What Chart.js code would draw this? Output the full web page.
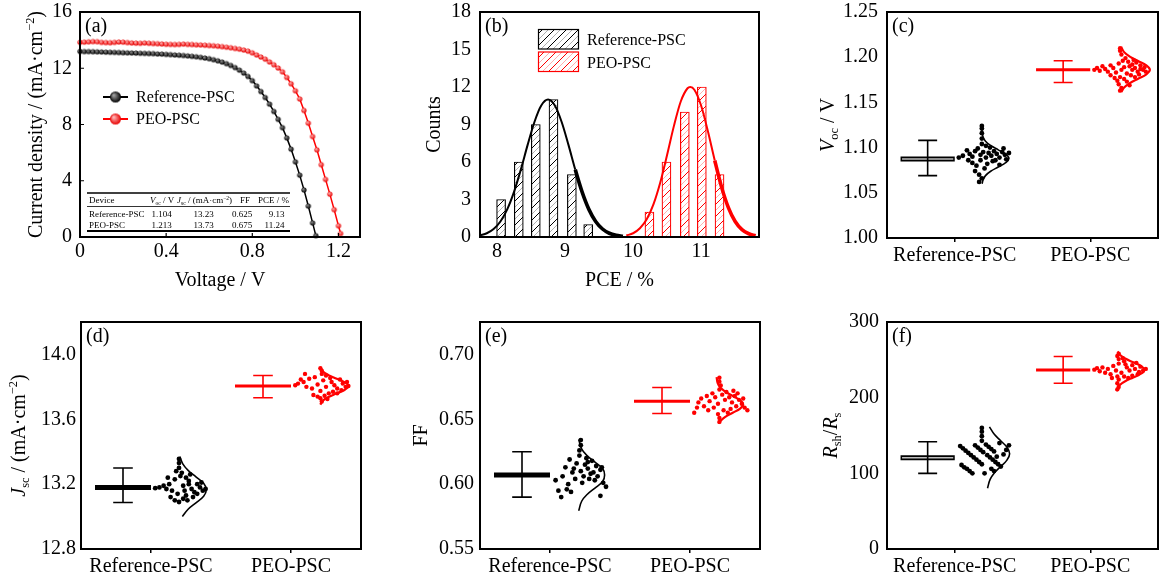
<!DOCTYPE html>
<html>
<head>
<meta charset="utf-8">
<script src="https://cdn.jsdelivr.net/npm/chart.js@4.4.0/dist/chart.umd.min.js"></script>
<style>
  body { margin: 0; background: #fff; width: 1162px; height: 580px; position: relative; overflow: hidden; }
  canvas { position: absolute; }
</style>
</head>
<body>
<canvas id="pa"></canvas>
<canvas id="pb"></canvas>
<canvas id="pc"></canvas>
<canvas id="pd"></canvas>
<canvas id="pe"></canvas>
<canvas id="pf"></canvas>
<script>
const FONT = "'Liberation Serif', 'Times New Roman', serif";

// ---------- (a) J-V curves ----------
const refV = [0, 0.02, 0.04, 0.06, 0.08, 0.10, 0.12, 0.14, 0.16, 0.18, 0.20, 0.22, 0.24, 0.26, 0.28, 0.30, 0.32, 0.34, 0.36, 0.38,
  0.40, 0.42, 0.44, 0.46, 0.48, 0.50, 0.52, 0.54, 0.56, 0.58, 0.60, 0.62, 0.64, 0.66, 0.68, 0.70, 0.72, 0.74, 0.76, 0.78,
  0.80, 0.82, 0.84, 0.86, 0.88, 0.90, 0.92, 0.94, 0.96, 0.98, 1.00, 1.02, 1.04, 1.06, 1.08, 1.095];
const refJ = [13.20, 13.19, 13.19, 13.18, 13.17, 13.16, 13.15, 13.14, 13.13, 13.12, 13.11, 13.10, 13.09, 13.08, 13.07, 13.06, 13.05, 13.04, 13.02, 13.01,
  12.99, 12.97, 12.95, 12.93, 12.91, 12.88, 12.85, 12.82, 12.78, 12.73, 12.68, 12.61, 12.53, 12.44, 12.33, 12.20, 12.05, 11.87, 11.66, 11.42,
  11.12, 10.75, 10.35, 9.92, 9.45, 8.93, 8.37, 7.78, 7.05, 6.25, 5.35, 4.40, 3.35, 2.20, 1.00, 0.10];
const peoV = [0, 0.02, 0.04, 0.06, 0.08, 0.10, 0.12, 0.14, 0.16, 0.18, 0.20, 0.22, 0.24, 0.26, 0.28, 0.30, 0.32, 0.34, 0.36, 0.38,
  0.40, 0.42, 0.44, 0.46, 0.48, 0.50, 0.52, 0.54, 0.56, 0.58, 0.60, 0.62, 0.64, 0.66, 0.68, 0.70, 0.72, 0.74, 0.76, 0.78,
  0.80, 0.82, 0.84, 0.86, 0.88, 0.90, 0.92, 0.94, 0.96, 0.98, 1.00, 1.02, 1.04, 1.06, 1.08, 1.10, 1.12, 1.14, 1.16, 1.18, 1.20, 1.21];
const peoJ = [13.85, 13.86, 13.88, 13.90, 13.89, 13.84, 13.83, 13.82, 13.84, 13.87, 13.86, 13.83, 13.80, 13.79, 13.78, 13.80, 13.78, 13.76, 13.75, 13.73,
  13.71, 13.70, 13.69, 13.70, 13.72, 13.70, 13.69, 13.67, 13.66, 13.64, 13.62, 13.60, 13.57, 13.54, 13.50, 13.46, 13.41, 13.36, 13.30, 13.22,
  13.10, 12.95, 12.80, 12.65, 12.45, 12.25, 12.02, 11.75, 11.35, 10.90, 10.40, 9.82, 9.00, 8.10, 7.15, 6.20, 5.15, 4.10, 3.05, 1.95, 0.80, 0.25];
const voltTicks = [0, 0.4, 0.8, 1.2];
const jTicks = [0, 4, 8, 12, 16];
const tableRows = [
  ['Reference-PSC', '1.104', '13.23', '0.625', '9.13'],
  ['PEO-PSC', '1.213', '13.73', '0.675', '11.24']
];

// ---------- (b) PCE histogram ----------
const refPce = [8.06, 8.32, 8.57, 8.83, 9.10, 9.34];
const refCounts = [3, 6, 9, 11, 5, 1];
const peoPce = [10.24, 10.49, 10.76, 11.01, 11.27];
const peoCounts = [2, 6, 10, 12, 5];
const refFitX = [7.75, 7.85, 7.95, 8.05, 8.15, 8.25, 8.35, 8.45, 8.55, 8.65, 8.75, 8.85, 8.95, 9.05, 9.15, 9.25, 9.35, 9.45, 9.55, 9.65, 9.75, 9.85];
const refFitY = [0.13, 0.30, 0.64, 1.24, 2.21, 3.61, 5.39, 7.37, 9.20, 10.52, 11.0, 10.52, 9.20, 7.37, 5.39, 3.61, 2.21, 1.24, 0.64, 0.30, 0.13, 0.05];
const peoFitX = [9.9, 10.0, 10.1, 10.2, 10.3, 10.4, 10.5, 10.6, 10.7, 10.8, 10.84, 10.9, 11.0, 11.1, 11.2, 11.3, 11.4, 11.5, 11.6, 11.7, 11.8];
const peoFitY = [0.12, 0.30, 0.70, 1.42, 2.63, 4.38, 6.58, 8.89, 10.84, 11.90, 12.0, 11.78, 10.50, 8.44, 6.12, 3.99, 2.35, 1.24, 0.59, 0.26, 0.10];
const pceTicks = [8, 9, 10, 11];
const countTicks = [0, 3, 6, 9, 12, 15, 18];

// ---------- (c)-(f) statistics ----------
const groups = ['Reference-PSC', 'PEO-PSC'];
// dots: [offset right of the group tick, value]; fits: [offset, value]

const vocMean = [1.0874, 1.186], vocLo = [1.069, 1.172], vocHi = [1.108, 1.196];
const vocTicks = [1.00, 1.05, 1.10, 1.15, 1.20, 1.25];
const vocRefDots = [[0.03,1.089],[0.06,1.091],[0.09,1.097],[0.11,1.093],[0.13,1.090],[0.15,1.096],[0.17,1.099],[0.19,1.092],[0.21,1.095],[0.23,1.089],
  [0.25,1.094],[0.27,1.091],[0.29,1.096],[0.31,1.093],[0.33,1.089],[0.35,1.095],[0.37,1.092],[0.13,1.083],[0.16,1.080],[0.19,1.086],
  [0.22,1.077],[0.15,1.074],[0.18,1.070],[0.20,1.066],[0.18,1.062],[0.24,1.082],[0.28,1.085],[0.20,1.104],[0.20,1.110],[0.20,1.116],
  [0.20,1.121],[0.20,1.124],[0.23,1.102],[0.26,1.100],[0.30,1.086],[0.33,1.081],[0.38,1.087],[0.40,1.094],[0.36,1.099],[0.10,1.086]];
const vocPeoDots = [[0.03,1.186],[0.05,1.188],[0.07,1.185],[0.09,1.190],[0.11,1.187],[0.13,1.184],[0.15,1.191],[0.17,1.188],[0.19,1.183],[0.21,1.193],
  [0.23,1.186],[0.25,1.189],[0.27,1.182],[0.29,1.190],[0.31,1.186],[0.33,1.188],[0.35,1.184],[0.37,1.187],[0.15,1.180],[0.18,1.177],
  [0.20,1.174],[0.22,1.178],[0.25,1.176],[0.21,1.170],[0.23,1.166],[0.22,1.163],[0.24,1.196],[0.26,1.199],[0.23,1.203],[0.22,1.207],
  [0.22,1.210],[0.28,1.195],[0.31,1.192],[0.34,1.194],[0.30,1.180],[0.33,1.178],[0.36,1.181],[0.39,1.186],[0.41,1.184],[0.27,1.173],
  [0.29,1.169],[0.32,1.197],[0.37,1.191],[0.40,1.189]];
const vocRefFit = [[0.200,1.1245],[0.202,1.1165],[0.209,1.1118],[0.227,1.107],[0.265,1.1023],[0.321,1.0975],[0.376,1.0928],[0.400,1.088],
  [0.376,1.0833],[0.321,1.0785],[0.265,1.0738],[0.227,1.069],[0.209,1.0643],[0.202,1.060]];
const vocPeoFit = [[0.228,1.2115],[0.250,1.2056],[0.292,1.2007],[0.353,1.1958],[0.414,1.1909],[0.440,1.186],[0.414,1.1811],[0.353,1.1762],
  [0.292,1.1713],[0.250,1.1664],[0.230,1.1615]];

const jscMean = [13.18, 13.805], jscLo = [13.087, 13.733], jscHi = [13.30, 13.87];
const jscTicks = [12.8, 13.2, 13.6, 14.0];
const jscRefDots = [[0.03,13.175],[0.06,13.18],[0.09,13.19],[0.11,13.17],[0.13,13.20],[0.15,13.16],[0.17,13.23],[0.19,13.14],[0.21,13.25],[0.23,13.19],
  [0.25,13.13],[0.27,13.22],[0.29,13.17],[0.31,13.15],[0.33,13.20],[0.35,13.18],[0.37,13.16],[0.39,13.17],[0.14,13.12],[0.17,13.10],
  [0.20,13.09],[0.23,13.11],[0.26,13.10],[0.22,13.27],[0.20,13.30],[0.20,13.33],[0.20,13.355],[0.25,13.24],[0.28,13.26],[0.30,13.12],
  [0.33,13.14],[0.36,13.21],[0.18,13.28],[0.12,13.24],[0.24,13.16],[0.27,13.20]];
const jscPeoDots = [[0.03,13.81],[0.05,13.82],[0.07,13.845],[0.09,13.83],[0.11,13.80],[0.13,13.85],[0.15,13.79],[0.17,13.86],[0.19,13.815],[0.21,13.775],
  [0.23,13.84],[0.25,13.80],[0.27,13.76],[0.29,13.83],[0.31,13.81],[0.33,13.79],[0.35,13.845],[0.37,13.82],[0.39,13.80],[0.16,13.75],
  [0.19,13.74],[0.21,13.73],[0.22,13.71],[0.24,13.745],[0.26,13.725],[0.22,13.88],[0.22,13.90],[0.21,13.915],[0.25,13.87],[0.28,13.855],
  [0.30,13.77],[0.33,13.76],[0.36,13.78],[0.10,13.88],[0.40,13.83],[0.41,13.805]];
const jscRefFit = [[0.206,13.37],[0.227,13.325],[0.265,13.285],[0.321,13.245],[0.376,13.205],[0.395,13.165],[0.376,13.125],[0.321,13.085],
  [0.265,13.045],[0.224,13.0]];
const jscPeoFit = [[0.209,13.92],[0.228,13.895],[0.268,13.8725],[0.327,13.85],[0.385,13.8275],[0.410,13.805],[0.385,13.7825],[0.327,13.76],
  [0.268,13.7375],[0.228,13.715],[0.209,13.69]];

const ffMean = [0.607, 0.664], ffLo = [0.590, 0.6545], ffHi = [0.625, 0.6745];
const ffTicks = [0.55, 0.60, 0.65, 0.70];
const ffRefDots = [[0.04,0.603],[0.06,0.595],[0.08,0.590],[0.09,0.606],[0.11,0.613],[0.13,0.600],[0.14,0.619],[0.16,0.609],[0.18,0.604],[0.19,0.616],
  [0.21,0.622],[0.22,0.610],[0.24,0.606],[0.25,0.615],[0.27,0.612],[0.28,0.604],[0.30,0.618],[0.31,0.609],[0.33,0.614],[0.34,0.606],
  [0.36,0.611],[0.37,0.613],[0.12,0.596],[0.15,0.594],[0.21,0.626],[0.22,0.630],[0.22,0.634],[0.26,0.620],[0.29,0.608],[0.38,0.601],
  [0.40,0.598],[0.36,0.591],[0.32,0.603],[0.17,0.612],[0.27,0.617],[0.23,0.601]];
const ffPeoDots = [[0.03,0.655],[0.05,0.659],[0.06,0.663],[0.08,0.666],[0.10,0.660],[0.12,0.668],[0.14,0.664],[0.16,0.670],[0.18,0.667],[0.20,0.662],
  [0.21,0.673],[0.23,0.669],[0.25,0.665],[0.26,0.671],[0.28,0.667],[0.30,0.663],[0.32,0.668],[0.33,0.660],[0.35,0.665],[0.37,0.662],
  [0.39,0.659],[0.41,0.657],[0.22,0.676],[0.21,0.679],[0.21,0.682],[0.20,0.654],[0.21,0.651],[0.21,0.648],[0.24,0.657],[0.27,0.655],
  [0.29,0.658],[0.31,0.672],[0.34,0.670],[0.13,0.657],[0.17,0.659],[0.38,0.666]];
const ffRefFit = [[0.205,0.6345],[0.227,0.627],[0.265,0.622],[0.321,0.617],[0.376,0.612],[0.390,0.607],[0.376,0.602],[0.321,0.597],
  [0.265,0.592],[0.227,0.587],[0.205,0.5795]];
const ffPeoFit = [[0.190,0.6825],[0.198,0.6778],[0.216,0.6745],[0.252,0.6713],[0.305,0.668],[0.358,0.6648],[0.380,0.6615],[0.358,0.6583],
  [0.305,0.655],[0.252,0.6518],[0.216,0.6485],[0.202,0.6467]];

const rsMean = [120.6, 236.7], rsLo = [100, 219], rsHi = [141.7, 254.4];
const rsTicks = [0, 100, 200, 300];
const rsRefDots = [[0.04,136],[0.06,133],[0.08,130],[0.10,127],[0.12,124],[0.05,111],[0.07,108],[0.09,106],[0.11,103],[0.13,100],
  [0.14,121],[0.16,118],[0.18,115],[0.20,112],[0.15,137],[0.17,134],[0.19,131],[0.21,128],[0.20,143],[0.20,149],
  [0.20,155],[0.20,160],[0.23,138],[0.25,135],[0.27,132],[0.29,129],[0.24,124],[0.26,121],[0.28,118],[0.30,115],
  [0.32,112],[0.34,109],[0.27,106],[0.29,103],[0.36,125],[0.38,131],[0.40,137],[0.33,140],[0.22,100],[0.31,122]];
const rsPeoDots = [[0.03,237],[0.05,239],[0.07,235],[0.09,240],[0.11,233],[0.13,238],[0.15,231],[0.17,242],[0.19,236],[0.21,245],
  [0.23,233],[0.25,248],[0.27,240],[0.29,236],[0.31,243],[0.33,238],[0.35,231],[0.37,241],[0.39,236],[0.41,238],
  [0.21,251],[0.20,255],[0.21,258],[0.20,228],[0.21,224],[0.20,219],[0.21,214],[0.20,211],[0.25,228],[0.28,226],
  [0.31,229],[0.34,246],[0.24,252],[0.16,226],[0.36,234],[0.26,244]];
const rsRefFit = [[0.256,161.4],[0.292,151.5],[0.339,143],[0.385,134.5],[0.405,126],[0.385,117.5],[0.339,109],[0.292,100.5],[0.261,92],[0.242,80.4]];
const rsPeoFit = [[0.201,261],[0.218,256.7],[0.258,251.7],[0.317,246.7],[0.375,241.7],[0.400,236.7],[0.375,231.7],[0.317,226.7],
  [0.258,221.7],[0.218,216.7],[0.199,211.7],[0.194,208.4]];

// ---------- helpers ----------
Chart.defaults.font.family = FONT;
Chart.defaults.font.size = 20;
Chart.defaults.color = '#000';
Chart.defaults.animation = false;
Chart.defaults.plugins.legend.display = false;
Chart.defaults.plugins.tooltip.enabled = false;

function segFont(s, size) {
  const sz = (s.sub || s.sup) ? size * 0.62 : size;
  return (s.it ? 'italic ' : '') + sz + 'px ' + FONT;
}
function drawRich(ctx, segs, x, y, size, rotate, align) {
  ctx.save();
  ctx.translate(x, y);
  if (rotate) ctx.rotate(-Math.PI / 2);
  let w = 0;
  segs.forEach(s => { ctx.font = segFont(s, size); w += ctx.measureText(s.t).width; });
  let cx = align === 'left' ? 0 : (align === 'right' ? -w : -w / 2);
  ctx.fillStyle = '#000';
  ctx.textBaseline = 'alphabetic';
  ctx.textAlign = 'left';
  segs.forEach(s => {
    ctx.font = segFont(s, size);
    const dy = s.sub ? size * 0.22 : (s.sup ? -size * 0.38 : 0);
    ctx.fillText(s.t, cx, dy + size * 0.34);
    cx += ctx.measureText(s.t).width;
  });
  ctx.restore();
}

function ball(r, dark, light) {
  const s = Math.ceil(2 * r + 2);
  const c = document.createElement('canvas');
  c.width = c.height = s;
  const g = c.getContext('2d');
  const m = s / 2;
  const grad = g.createRadialGradient(m - r * 0.35, m - r * 0.35, r * 0.1, m, m, r);
  grad.addColorStop(0, light);
  grad.addColorStop(1, dark);
  g.fillStyle = grad;
  g.beginPath();
  g.arc(m, m, r, 0, Math.PI * 2);
  g.fill();
  return c;
}

// diagonal hatch: one dark stroke and one faint stroke per tile
function hatch(color, faint) {
  const n = 12;
  const c = document.createElement('canvas');
  c.width = c.height = n;
  const g = c.getContext('2d');
  g.fillStyle = '#fff';
  g.fillRect(0, 0, n, n);
  g.lineWidth = 1;
  g.strokeStyle = color;
  g.beginPath();
  g.moveTo(0, n); g.lineTo(n, 0);
  g.moveTo(-1, 1); g.lineTo(1, -1);
  g.moveTo(n - 1, n + 1); g.lineTo(n + 1, n - 1);
  g.stroke();
  g.strokeStyle = faint;
  g.beginPath();
  g.moveTo(0, n / 2); g.lineTo(n / 2, 0);
  g.moveTo(n / 2, n); g.lineTo(n, n / 2);
  g.stroke();
  return g.createPattern(c, 'repeat');
}

function numAxis(min, max, ticks, fmt, pad) {
  return {
    type: 'linear', min, max, offset: false,
    grid: { display: false, drawTicks: false, offset: false },
    border: { display: false },
    ticks: { padding: pad, autoSkip: false, maxRotation: 0, callback: (v, i) => fmt(v, i) },
    afterBuildTicks: s => { s.ticks = ticks.map(v => ({ value: v })); }
  };
}
function catAxis() {
  const a = numAxis(0, 2, [0.5, 1.5], (v, i) => groups[i], 2);
  a.grid = { display: true, drawOnChartArea: false, drawTicks: true, tickLength: 4, color: '#000', lineWidth: 1.5 };
  return a;
}

// frame, inner ticks, titles, panel label
const decor = {
  id: 'decor',
  afterDraw(chart, args, o) {
    const { ctx, chartArea: a } = chart;
    const xs = chart.scales.x, ys = chart.scales.y;
    ctx.save();
    ctx.strokeStyle = '#000';
    ctx.lineWidth = 2;
    ctx.strokeRect(a.left, a.top, a.right - a.left, a.bottom - a.top);
    if (o.inTicks) {
      ctx.lineWidth = 1.2;
      ctx.beginPath();
      xs.ticks.forEach(t => { const p = xs.getPixelForValue(t.value); ctx.moveTo(p, a.bottom); ctx.lineTo(p, a.bottom - 4); });
      ys.ticks.forEach(t => { const p = ys.getPixelForValue(t.value); ctx.moveTo(a.left, p); ctx.lineTo(a.left + 4, p); });
      ctx.stroke();
    }
    ctx.restore();
    drawRich(ctx, o.yTitle, o.yTitleX, (a.top + a.bottom) / 2, 20, true, 'center');
    if (o.xTitle) drawRich(ctx, o.xTitle, (a.left + a.right) / 2, o.xTitleY, 20, false, 'center');
    drawRich(ctx, [{ t: o.label }], a.left + 5, a.top + 13, 20, false, 'left');
  }
};

// mean line + error bar for the statistics panels
const stats = {
  id: 'stats',
  afterDatasetsDraw(chart, args, o) {
    if (!o.mean) return;
    const { ctx } = chart;
    const xs = chart.scales.x, ys = chart.scales.y;
    ctx.save();
    for (let i = 0; i < 2; i++) {
      const tick = i + 0.5;
      const color = i === 0 ? '#000' : '#f00';
      const y = ys.getPixelForValue(o.mean[i]);
      const x0 = xs.getPixelForValue(tick - 0.4), x1 = xs.getPixelForValue(tick);
      ctx.beginPath();
      ctx.moveTo(x0, y); ctx.lineTo(x1, y);
      ctx.strokeStyle = color;
      ctx.lineWidth = i === 0 ? 5 : 3;
      ctx.stroke();
      if (i === 0 && o.hollow) {
        ctx.beginPath();
        ctx.moveTo(x0 + 1.5, y); ctx.lineTo(x1 - 1.5, y);
        ctx.strokeStyle = '#bdbdbd';
        ctx.lineWidth = 1.6;
        ctx.stroke();
      }
      const xe = xs.getPixelForValue(tick - 0.2);
      const cw = xs.getPixelForValue(tick - 0.13) - xe;
      const yl = ys.getPixelForValue(o.lo[i]), yh = ys.getPixelForValue(o.hi[i]);
      ctx.beginPath();
      ctx.moveTo(xe, yl); ctx.lineTo(xe, yh);
      ctx.moveTo(xe - cw, yl); ctx.lineTo(xe + cw, yl);
      ctx.moveTo(xe - cw, yh); ctx.lineTo(xe + cw, yh);
      ctx.strokeStyle = color;
      ctx.lineWidth = 1.6;
      ctx.stroke();
    }
    ctx.restore();
  }
};

function makeChart(id, box, area, cfg) {
  const cv = document.getElementById(id);
  const [bx, by, bw, bh] = box;
  cv.width = bw; cv.height = bh;
  cv.style.left = bx + 'px'; cv.style.top = by + 'px';
  cv.style.width = bw + 'px'; cv.style.height = bh + 'px';
  const o = cfg.options;
  o.responsive = false;
  o.devicePixelRatio = 1;
  o.layout = { padding: { left: 0, top: area[1] - by, right: bx + bw - area[2], bottom: 0 } };
  o.scales.x.afterFit = s => { s.height = by + bh - area[3]; s.paddingLeft = 0; s.paddingRight = 0; };
  o.scales.y.afterFit = s => { s.width = area[0] - bx; s.paddingTop = 0; s.paddingBottom = 0; };
  cfg.plugins = (cfg.plugins || []).concat([decor, stats]);
  return new Chart(cv, cfg);
}

function pts(xs, ys) { return xs.map((x, i) => ({ x, y: ys[i] })); }
function shift(arr, base) { return arr.map(p => ({ x: base + p[0], y: p[1] })); }

function statChart(id, box, area, cfg) {
  return makeChart(id, box, area, {
    type: 'scatter',
    data: {
      datasets: [
        { data: shift(cfg.refDots, 0.5), pointRadius: 2.4, backgroundColor: '#000', borderWidth: 0 },
        { data: shift(cfg.peoDots, 1.5), pointRadius: 2.2, backgroundColor: '#f00', borderWidth: 0 },
        { data: shift(cfg.refFit, 0.5), showLine: true, pointRadius: 0, borderColor: '#000', borderWidth: 1.6, tension: 0.4, fill: false },
        { data: shift(cfg.peoFit, 1.5), showLine: true, pointRadius: 0, borderColor: '#f00', borderWidth: 2.2, tension: 0.4, fill: false }
      ]
    },
    options: {
      scales: { x: catAxis(), y: numAxis(cfg.min, cfg.max, cfg.ticks, cfg.fmt, cfg.pad) },
      plugins: {
        decor: { yTitle: cfg.yTitle, yTitleX: cfg.yTitleX, label: cfg.label },
        stats: { mean: cfg.mean, lo: cfg.lo, hi: cfg.hi, hollow: cfg.hollow }
      }
    }
  });
}

// ---------- (a) ----------
const blackBall = ball(2.6, '#000', '#8a8a8a');
const redBall = ball(2.6, '#e80000', '#ffb0b0');
const legendA = {
  id: 'legendA',
  afterDraw(chart) {
    const ctx = chart.ctx;
    const items = [['Reference-PSC', '#000', ball(5.5, '#000', '#a0a0a0'), 97], ['PEO-PSC', '#f00', ball(5.5, '#e80000', '#ffb8b8'), 119]];
    items.forEach(([t, c, b, y]) => {
      ctx.save();
      ctx.strokeStyle = c; ctx.lineWidth = 2;
      ctx.beginPath(); ctx.moveTo(103, y); ctx.lineTo(128, y); ctx.stroke();
      ctx.drawImage(b, 115.5 - b.width / 2, y - b.height / 2);
      ctx.restore();
      drawRich(ctx, [{ t }], 136, y, 16, false, 'left');
    });
    // parameter table
    ctx.save();
    ctx.strokeStyle = '#000';
    ctx.lineWidth = 1.6;
    ctx.beginPath(); ctx.moveTo(87, 193); ctx.lineTo(290, 193); ctx.stroke();
    ctx.lineWidth = 0.8;
    ctx.beginPath(); ctx.moveTo(87, 206.5); ctx.lineTo(290, 206.5); ctx.stroke();
    ctx.lineWidth = 2.2;
    ctx.beginPath(); ctx.moveTo(87, 231); ctx.lineTo(290, 231); ctx.stroke();
    ctx.restore();
    const fs = 9;
    drawRich(ctx, [{ t: 'Device' }], 89, 200, fs, false, 'left');
    drawRich(ctx, [{ t: 'V', it: true }, { t: 'oc', sub: true }, { t: ' / V' }], 150, 200, fs, false, 'left');
    drawRich(ctx, [{ t: 'J', it: true }, { t: 'sc', sub: true }, { t: ' / (mA·cm' }, { t: '−2', sup: true }, { t: ')' }], 177, 200, fs, false, 'left');
    drawRich(ctx, [{ t: 'FF' }], 240, 200, fs, false, 'left');
    drawRich(ctx, [{ t: 'PCE / %' }], 289, 200, fs, false, 'right');
    tableRows.forEach((r, i) => {
      const y = 214 + i * 10.5;
      drawRich(ctx, [{ t: r[0] }], 89, y, fs, false, 'left');
      drawRich(ctx, [{ t: r[1] }], 151.5, y, fs, false, 'left');
      drawRich(ctx, [{ t: r[2] }], 203.5, y, fs, false, 'center');
      drawRich(ctx, [{ t: r[3] }], 232, y, fs, false, 'left');
      drawRich(ctx, [{ t: r[4] }], 284.5, y, fs, false, 'right');
    });
  }
};

makeChart('pa', [0, 0, 380, 300], [80, 12, 360, 237], {
  type: 'scatter',
  data: {
    datasets: [
      { data: pts(refV, refJ), showLine: true, borderColor: '#000', borderWidth: 1.5, pointStyle: blackBall, clip: false },
      { data: pts(peoV, peoJ), showLine: true, borderColor: '#f00', borderWidth: 1.5, pointStyle: redBall, clip: false }
    ]
  },
  options: {
    scales: {
      x: numAxis(0, 1.3, voltTicks, v => String(v), 3),
      y: numAxis(0, 16, jTicks, v => String(v), 8)
    },
    plugins: {
      decor: {
        inTicks: true, label: '(a)', yTitleX: 35, xTitleY: 279,
        yTitle: [{ t: 'Current density / (mA·cm' }, { t: '−2', sup: true }, { t: ')' }],
        xTitle: [{ t: 'Voltage / V' }]
      }
    }
  },
  plugins: [legendA]
});

// ---------- (b) ----------
const hatchBlack = hatch('#000', '#b0b0b0');
const hatchRed = hatch('#f00', '#ffb0b0');
const legendB = {
  id: 'legendB',
  afterDraw(chart) {
    const ctx = chart.ctx;
    [['Reference-PSC', '#000', hatchBlack, 29.5], ['PEO-PSC', '#f00', hatchRed, 52]].forEach(([t, c, p, y]) => {
      ctx.save();
      ctx.fillStyle = p; ctx.fillRect(158.5, y, 40, 19.5);
      ctx.strokeStyle = c; ctx.lineWidth = 1.2; ctx.strokeRect(158.5, y, 40, 19.5);
      ctx.restore();
      drawRich(ctx, [{ t }], 207, y + 10.5, 16, false, 'left');
    });
  }
};

makeChart('pb', [380, 0, 400, 300], [480, 12, 759, 237], {
  type: 'bar',
  data: {
    datasets: [
      { type: 'line', data: pts(refFitX, refFitY), borderColor: '#000', borderWidth: 2, pointRadius: 0, cubicInterpolationMode: 'monotone',
        segment: { borderWidth: c => c.p0.parsed.x >= 9.1 ? 3.6 : 2 } },
      { type: 'line', data: pts(peoFitX, peoFitY), borderColor: '#f00', borderWidth: 2, pointRadius: 0, cubicInterpolationMode: 'monotone',
        segment: { borderWidth: c => c.p0.parsed.x >= 11.2 ? 3.6 : 2 } },
      { data: pts(refPce, refCounts), backgroundColor: hatchBlack, borderColor: '#000', borderWidth: 1.2, barThickness: 9, grouped: false },
      { data: pts(peoPce, peoCounts), backgroundColor: hatchRed, borderColor: '#f00', borderWidth: 1.2, barThickness: 9, grouped: false }
    ]
  },
  options: {
    scales: {
      x: numAxis(7.75, 11.85, pceTicks, v => String(v), 3),
      y: numAxis(0, 18, countTicks, v => String(v), 9)
    },
    plugins: {
      decor: { label: '(b)', yTitleX: 53, xTitleY: 279, yTitle: [{ t: 'Counts' }], xTitle: [{ t: 'PCE / %' }] }
    }
  },
  plugins: [legendB]
});

// ---------- (c)-(f) ----------
statChart('pc', [780, 0, 382, 300], [887, 12, 1161, 238], {
  refDots: vocRefDots, peoDots: vocPeoDots, refFit: vocRefFit, peoFit: vocPeoFit,
  mean: vocMean, lo: vocLo, hi: vocHi, hollow: true,
  min: 1.0, max: 1.25, ticks: vocTicks, fmt: v => v.toFixed(2), pad: 9,
  label: '(c)', yTitleX: 47, yTitle: [{ t: 'V', it: true }, { t: 'oc', sub: true }, { t: ' / V' }]
});
statChart('pd', [0, 300, 380, 280], [81, 322, 361, 549], {
  refDots: jscRefDots, peoDots: jscPeoDots, refFit: jscRefFit, peoFit: jscPeoFit,
  mean: jscMean, lo: jscLo, hi: jscHi, hollow: false,
  min: 12.8, max: 14.2, ticks: jscTicks, fmt: v => v.toFixed(1), pad: 5,
  label: '(d)', yTitleX: 18, yTitle: [{ t: 'J', it: true }, { t: 'sc', sub: true }, { t: ' / (mA·cm' }, { t: '−2', sup: true }, { t: ')' }]
});
statChart('pe', [380, 300, 400, 280], [480, 322, 760, 549], {
  refDots: ffRefDots, peoDots: ffPeoDots, refFit: ffRefFit, peoFit: ffPeoFit,
  mean: ffMean, lo: ffLo, hi: ffHi, hollow: false,
  min: 0.55, max: 0.725, ticks: ffTicks, fmt: v => v.toFixed(2), pad: 6,
  label: '(e)', yTitleX: 40, yTitle: [{ t: 'FF' }]
});
statChart('pf', [780, 300, 382, 280], [887, 322, 1161, 549], {
  refDots: rsRefDots, peoDots: rsPeoDots, refFit: rsRefFit, peoFit: rsPeoFit,
  mean: rsMean, lo: rsLo, hi: rsHi, hollow: true,
  min: 0, max: 300, ticks: rsTicks, fmt: v => String(v), pad: 8,
  label: '(f)', yTitleX: 50, yTitle: [{ t: 'R', it: true }, { t: 'sh', sub: true }, { t: '/' }, { t: 'R', it: true }, { t: 's', sub: true }]
});
</script>
</body>
</html>
